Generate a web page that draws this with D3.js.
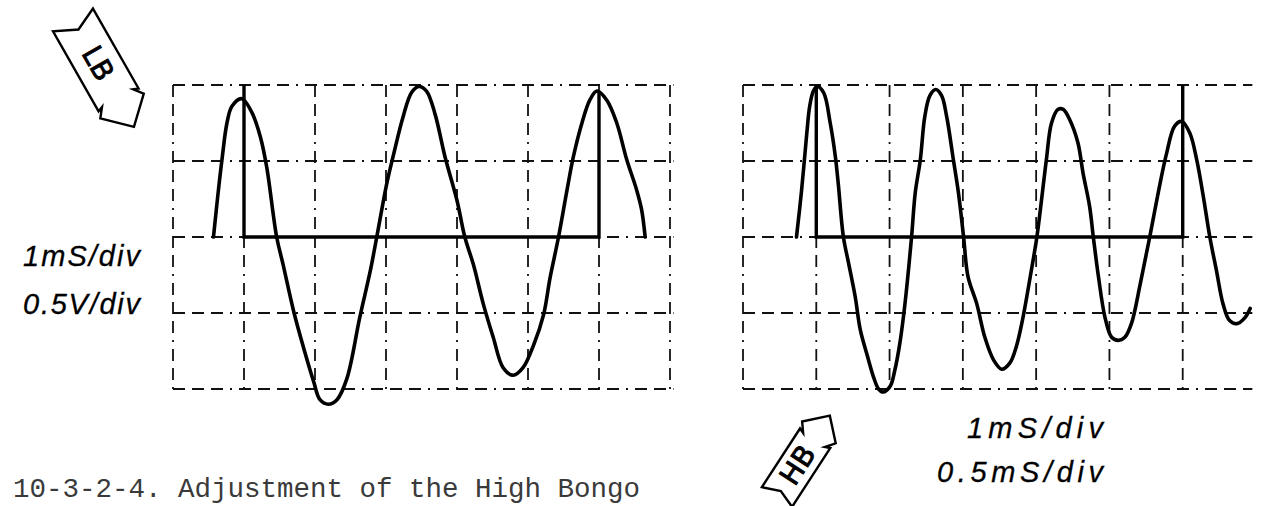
<!DOCTYPE html>
<html>
<head>
<meta charset="utf-8">
<script src="https://cdn.jsdelivr.net/npm/d3@7"></script>
<style>
  body { margin: 0; background: #fff; }
  svg { display: block; }
</style>
</head>
<body>
<svg id="app" width="1271" height="506"></svg>
<script>
// low bongo trace, time in ms (1 ms/div), level in V (0.5 V/div)
const lbTime = [0.57,0.64,0.69,0.76,0.83,0.97,1.11,1.23,1.32,1.46,1.55,1.70,1.84,1.98,2.07,2.19,2.31,2.45,2.63,2.78,2.87,3.01,3.10,3.24,3.36,3.46,3.57,3.69,3.83,4.00,4.11,4.23,4.37,4.51,4.65,4.79,4.93,5.08,5.22,5.31,5.43,5.55,5.64,5.76,5.87,5.97,6.11,6.25,6.39,6.53,6.60,6.65];
const lbLevel = [0,0.31,0.51,0.75,0.86,0.91,0.82,0.66,0.46,0,-0.18,-0.49,-0.73,-0.95,-1.07,-1.10,-1.07,-0.93,-0.53,-0.22,0,0.35,0.53,0.79,0.95,0.99,0.96,0.81,0.53,0.24,0,-0.18,-0.44,-0.66,-0.86,-0.91,-0.86,-0.71,-0.51,-0.27,0,0.31,0.53,0.75,0.90,0.96,0.90,0.75,0.51,0.31,0.18,0];
// high bongo trace
const hbTime = [0.73,0.80,0.87,0.91,0.96,1.01,1.10,1.19,1.26,1.30,1.37,1.44,1.53,1.60,1.69,1.78,1.85,1.91,2.01,2.07,2.14,2.21,2.30,2.35,2.42,2.48,2.55,2.63,2.71,2.78,2.87,2.94,3.01,3.07,3.19,3.30,3.42,3.53,3.64,3.73,3.82,3.92,4.01,4.08,4.14,4.21,4.30,4.37,4.46,4.57,4.64,4.73,4.78,4.85,4.94,5.03,5.12,5.21,5.30,5.42,5.55,5.69,5.78,5.89,5.99,6.10,6.19,6.28,6.37,6.46,6.55,6.64,6.74,6.85,6.92];
const hbLevel = [0,0.31,0.68,0.86,0.96,0.99,0.95,0.75,0.53,0.35,0,-0.17,-0.39,-0.61,-0.77,-0.92,-1.00,-1.02,-0.98,-0.88,-0.70,-0.44,0,0.29,0.51,0.79,0.93,0.97,0.93,0.79,0.51,0.29,0,-0.26,-0.44,-0.66,-0.81,-0.87,-0.83,-0.72,-0.53,-0.26,0,0.27,0.51,0.75,0.84,0.84,0.77,0.62,0.42,0.20,0,-0.26,-0.53,-0.66,-0.68,-0.66,-0.57,-0.31,0,0.35,0.55,0.73,0.76,0.68,0.51,0.27,0,-0.22,-0.44,-0.55,-0.57,-0.53,-0.47];
// trigger gate drawn on each screen
const lbGateTime = [1, 1, 6, 6];
const lbGateLevel = [1, 0, 0, 0.96];
const hbGateTime = [1, 1, 6, 6];
const hbGateLevel = [1, 0, 0, 1];
const divTicks = [0, 1, 2, 3, 4, 5, 6, 7];
const levelTicks = [-1, -0.5, 0, 0.5, 1];

const svg = d3.select('#app');
const dashes = '12,7,12,7,12,7,2,7';

function screen(x0, x1, tMax, showRight, time, level, gT, gL) {
  const x = d3.scaleLinear().domain([0, 7]).range([x0, x1]);
  const y = d3.scaleLinear().domain([-1, 1]).range([389, 85]);
  const g = svg.append('g');
  g.selectAll('line.h').data(levelTicks).enter().append('line')
    .attr('x1', x(0)).attr('x2', x(tMax))
    .attr('y1', d => y(d)).attr('y2', d => y(d))
    .attr('stroke', '#111').attr('stroke-width', 1.8)
    .attr('stroke-dasharray', dashes);
  g.selectAll('line.v').data(divTicks.filter(d => showRight || d < 7)).enter().append('line')
    .attr('x1', d => x(d)).attr('x2', d => x(d))
    .attr('y1', y(1)).attr('y2', y(-1))
    .attr('stroke', '#111').attr('stroke-width', 1.8)
    .attr('stroke-dasharray', dashes);
  const line = d3.line().x(d => x(d[0])).y(d => y(d[1])).curve(d3.curveCatmullRom);
  g.append('path').datum(time.map((t, i) => [t, level[i]]))
    .attr('d', line).attr('fill', 'none').attr('stroke', '#000')
    .attr('stroke-width', 3.6).attr('stroke-linejoin', 'round').attr('stroke-linecap', 'round');
  g.append('path').datum(gT.map((t, i) => [t, gL[i]]))
    .attr('d', d3.line().x(d => x(d[0])).y(d => y(d[1])))
    .attr('fill', 'none').attr('stroke', '#000').attr('stroke-width', 3.4);
}

screen(173, 670, 7.05, true, lbTime, lbLevel, lbGateTime, lbGateLevel);
screen(743, 1256, 6.95, false, hbTime, hbLevel, hbGateTime, hbGateLevel);

// hand lettered scale notes
function note(txt, x, y, w, size) {
  svg.append('text').attr('x', x).attr('y', y).text(txt)
    .attr('textLength', w).attr('lengthAdjust', 'spacing')
    .attr('font-family', 'Liberation Sans').attr('font-style', 'italic')
    .attr('font-size', size).attr('fill', '#000')
    .attr('stroke', '#000').attr('stroke-width', 0.3);
}
note('1mS/div', 23, 266, 117, 29);
note('0.5V/div', 23, 314, 117, 29);
note('1mS/div', 967, 438, 136, 29);
note('0.5mS/div', 937, 482, 166, 29);

// LB / HB tags
function tag(label, cx, cy, ang, L, w, notch, hs, tx) {
  const pts = [[0, -w], [hs, -w], [hs - 2, -w + 5], [hs + 7, -w - 2], [L, 0],
    [hs + 7, w + 2], [hs - 2, w - 5], [hs, w], [0, w], [notch, 0]];
  const g = svg.append('g').attr('transform', `translate(${cx},${cy}) rotate(${ang})`);
  g.append('path').attr('d', d3.line()(pts) + 'Z')
    .attr('fill', '#fff').attr('stroke', '#000').attr('stroke-width', 2.4)
    .attr('stroke-linejoin', 'miter');
  g.append('text').attr('x', tx).attr('y', 0).text(label)
    .attr('text-anchor', 'middle').attr('dominant-baseline', 'central')
    .attr('font-family', 'DejaVu Sans').attr('font-size', 28).attr('fill', '#000')
    .attr('stroke', '#000').attr('stroke-width', 0.9);
}
tag('LB', 73, 20, 60.3, 123, 23, 11, 92, 50);
tag('HB', 777, 497, -57, 97, 18, 7, 70, 38);

svg.append('text').attr('x', 13).attr('y', 497)
  .text('10-3-2-4. Adjustment of the High Bongo')
  .attr('font-family', 'Liberation Mono').attr('font-size', 27.5)
  .attr('fill', '#3a3a3a');
</script>
</body>
</html>
